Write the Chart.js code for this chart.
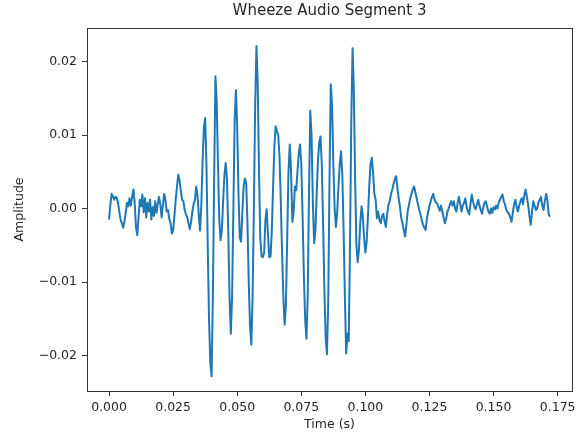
<!DOCTYPE html>
<html>
<head>
<meta charset="utf-8">
<script src="https://cdn.jsdelivr.net/npm/chart.js@4/dist/chart.umd.min.js"></script>
<style>
  body { margin: 0; background: #fff; }
</style>
</head>
<body>
<canvas id="waveChart" width="581" height="435"></canvas>
<script>
const sampleRate = 2000;
const amplitude = [
    -0.0015, 0.0005, 0.0020, 0.0017, 0.0012, 0.0016, 0.0015, 0.0008, -0.0004, -0.0015,
    -0.0020, -0.0026, -0.0018, -0.0006, 0.0008, 0.0003, 0.0014, 0.0004, 0.0016, 0.0026,
    0.0008, -0.0025, -0.0036, -0.0012, 0.0012, 0.0003, 0.0019, -0.0005, 0.0014, -0.0012,
    0.0008, -0.0004, 0.0012, -0.0015, 0.0002, -0.0010, 0.0010, -0.0006, 0.0006, 0.0016,
    0.0006, -0.0012, 0.0004, 0.0020, 0.0012, -0.0004, -0.0002, -0.0014, -0.0020, -0.0034,
    -0.0030, -0.0010, 0.0012, 0.0030, 0.0046, 0.0038, 0.0024, 0.0012, 0.0010, -0.0002,
    -0.0008, -0.0012, -0.0020, -0.0028, -0.0018, -0.0004, 0.0006, 0.0012, 0.0030, 0.0018,
    -0.0008, -0.0030, 0.0005, 0.0065, 0.0110, 0.0123, 0.0060, -0.0050, -0.0150, -0.0210,
    -0.0228, -0.0120, 0.0040, 0.0180, 0.0145, 0.0060, -0.0015, -0.0043, -0.0030, 0.0010,
    0.0045, 0.0062, 0.0040, -0.0030, -0.0120, -0.0170, -0.0120, 0.0000, 0.0120, 0.0161,
    0.0110, 0.0020, -0.0040, -0.0045, -0.0005, 0.0030, 0.0041, 0.0035, -0.0020, -0.0100,
    -0.0160, -0.0185, -0.0120, 0.0000, 0.0140, 0.0221, 0.0170, 0.0050, -0.0040, -0.0065,
    -0.0066, -0.0060, -0.0015, -0.0001, -0.0035, -0.0066, -0.0065, -0.0030, 0.0030, 0.0085,
    0.0112, 0.0105, 0.0100, 0.0070, 0.0010, -0.0060, -0.0120, -0.0158, -0.0130, -0.0040,
    0.0050, 0.0087, 0.0050, -0.0018, -0.0005, 0.0030, 0.0025, 0.0050, 0.0075, 0.0087,
    0.0060, -0.0010, -0.0090, -0.0150, -0.0177, -0.0120, 0.0020, 0.0133, 0.0100, 0.0010,
    -0.0047, -0.0030, 0.0020, 0.0065, 0.0090, 0.0098, 0.0060, -0.0020, -0.0110, -0.0175,
    -0.0198, -0.0130, 0.0040, 0.0169, 0.0140, 0.0060, 0.0000, -0.0025, -0.0005, 0.0030,
    0.0060, 0.0078, 0.0046, -0.0030, -0.0120, -0.0197, -0.0170, -0.0180, -0.0050, 0.0120,
    0.0218, 0.0160, 0.0040, -0.0050, -0.0073, -0.0055, -0.0020, 0.0003, -0.0010, -0.0040,
    -0.0060, -0.0045, -0.0010, 0.0030, 0.0060, 0.0069, 0.0048, 0.0020, 0.0012, -0.0013,
    -0.0004, -0.0016, -0.0020, -0.0010, -0.0007, -0.0018, -0.0025, -0.0008, 0.0005, 0.0010,
    0.0020, 0.0026, 0.0034, 0.0040, 0.0044, 0.0028, 0.0014, 0.0002, -0.0013, -0.0020,
    -0.0030, -0.0038, -0.0022, -0.0004, 0.0005, 0.0014, 0.0020, 0.0026, 0.0030, 0.0022,
    0.0014, 0.0006, -0.0002, -0.0008, -0.0016, -0.0022, -0.0026, -0.0029, -0.0014, -0.0004,
    0.0004, 0.0010, 0.0016, 0.0020, 0.0012, 0.0008, 0.0007, 0.0002, -0.0003, 0.0004,
    -0.0004, -0.0012, -0.0020, -0.0014, -0.0004, 0.0000, 0.0006, 0.0010, 0.0004, 0.0010,
    0.0000, -0.0004, 0.0008, 0.0016, 0.0006, -0.0004, 0.0004, 0.0008, 0.0014, 0.0002,
    -0.0004, -0.0008, 0.0006, 0.0019, 0.0010, 0.0002, -0.0001, 0.0006, 0.0012, 0.0004,
    -0.0002, -0.0007, 0.0002, 0.0008, 0.0010, 0.0002, -0.0004, -0.0007, 0.0000, -0.0006,
    0.0002, -0.0001, 0.0004, 0.0000, 0.0008, 0.0012, 0.0016, 0.0019, 0.0010, 0.0005,
    -0.0002, -0.0005, -0.0007, -0.0012, -0.0018, -0.0006, 0.0006, 0.0012, 0.0002, -0.0004,
    0.0004, 0.0010, 0.0014, 0.0006, 0.0018, 0.0026, 0.0016, 0.0005, -0.0010, -0.0022,
    -0.0004, 0.0010, 0.0004, -0.0002, 0.0000, 0.0008, 0.0012, 0.0016, 0.0004, -0.0002,
    0.0010, 0.0020, 0.0012, -0.0008, -0.0011
];
const xTicks = [0, 0.025, 0.05, 0.075, 0.1, 0.125, 0.15, 0.175];
const yTicks = [-0.02, -0.01, 0, 0.01, 0.02];

const points = amplitude.map((v, i) => ({ x: i / sampleRate, y: v }));

const font = { family: "'DejaVu Sans', sans-serif", size: 12.5 };
Chart.defaults.color = "#262626";

// matplotlib-like frame and title
const frame = {
    id: "frame",
    afterDraw(chart) {
        const { ctx, chartArea: a } = chart;
        ctx.save();
        ctx.strokeStyle = "#333";
        ctx.lineWidth = 1;
        ctx.strokeRect(Math.round(a.left) + 0.5, Math.round(a.top) + 0.5,
            Math.round(a.right - a.left), Math.round(a.bottom - a.top));
        ctx.fillStyle = "#262626";
        ctx.font = "15px 'DejaVu Sans', sans-serif";
        ctx.textAlign = "center";
        ctx.textBaseline = "middle";
        ctx.fillText("Wheeze Audio Segment 3", (a.left + a.right) / 2, 11);
        ctx.restore();
    }
};

const ctx = document.getElementById("waveChart").getContext("2d");
new Chart(ctx, {
    type: "line",
    data: {
        datasets: [{
            data: points,
            borderColor: "#1f77b4",
            borderWidth: 2,
            pointRadius: 0,
            tension: 0,
            borderJoinStyle: "round",
            fill: false
        }]
    },
    options: {
        responsive: false,
        animation: false,
        layout: { padding: { top: 28, right: 9, left: 0, bottom: 0 } },
        plugins: { legend: { display: false }, tooltip: { enabled: false } },
        scales: {
            x: {
                type: "linear",
                min: -0.0086,
                max: 0.1806,
                afterFit: s => { s.height = 44; },
                afterBuildTicks: s => { s.ticks = xTicks.map(v => ({ value: v })); },
                grid: { drawOnChartArea: false, tickLength: 5, color: "#333" },
                border: { display: false },
                ticks: { font, padding: 4, maxRotation: 0, callback: v => v.toFixed(3) },
                title: { display: true, text: "Time (s)", font, padding: { top: 0, bottom: 3 } }
            },
            y: {
                min: -0.0248,
                max: 0.02455,
                afterFit: s => { s.width = 87; },
                afterBuildTicks: s => { s.ticks = yTicks.map(v => ({ value: v })); },
                grid: { drawOnChartArea: false, tickLength: 5, color: "#333" },
                border: { display: false },
                ticks: { font, padding: 5, callback: v => (v < 0 ? "\u2212" : "") + Math.abs(v).toFixed(2) },
                title: { display: true, text: "Amplitude", font, padding: { top: 12, bottom: 0 } }
            }
        }
    },
    plugins: [frame]
});
</script>
</body>
</html>
